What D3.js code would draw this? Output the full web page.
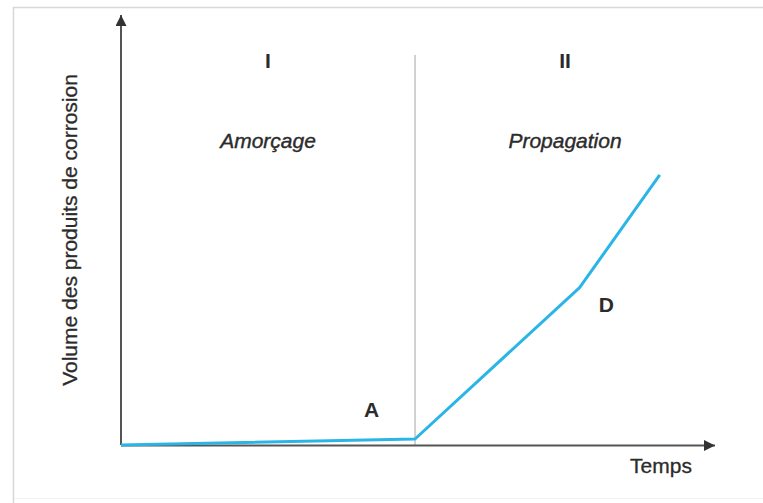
<!DOCTYPE html>
<html>
<head>
<meta charset="utf-8">
<script src="https://cdn.jsdelivr.net/npm/d3@7"></script>
<style>
  body { margin: 0; background: #fff; }
  text { font-family: "Liberation Sans", Arial, sans-serif; fill: #2b2b2b; }
</style>
</head>
<body>
<div id="chart"></div>
<script>
// time / volume points of the corrosion curve (arbitrary units)
const times = [0, 49.5, 77.2, 90.7];
const volumes = [0, 1.4, 36.6, 62.8];
const phaseLimit = 49.5;
const phases = ["I", "II"];
const phaseNames = ["Amorçage", "Propagation"];
const pointLabels = ["A", "D"];

const size = { width: 763, height: 503 };

const svg = d3.select("#chart").append("svg")
  .attr("width", size.width)
  .attr("height", size.height);

// light frame of the original figure
svg.append("path")
  .attr("d", "M13.5,503 V7.5 H763")
  .attr("fill", "none")
  .attr("stroke", "#d8d8d8")
  .attr("stroke-width", 1.5);

svg.append("line")
  .attr("x1", 14).attr("x2", 763)
  .attr("y1", 498.5).attr("y2", 498.5)
  .attr("stroke", "#eef3f3");

const x = d3.scaleLinear().domain([0, 100]).range([121, 715]);
const y = d3.scaleLinear().domain([0, 100]).range([445, 15]);

const axisColor = "#555";

// arrow heads
const defs = svg.append("defs");
defs.append("marker")
  .attr("id", "arrow")
  .attr("viewBox", "0 0 10 10")
  .attr("refX", 10)
  .attr("refY", 5)
  .attr("markerUnits", "userSpaceOnUse")
  .attr("markerWidth", 15)
  .attr("markerHeight", 11)
  .attr("orient", "auto")
  .append("path")
  .attr("d", "M0,0 L10,5 L0,10 z")
  .attr("fill", "#333");

// phase divider
svg.append("line")
  .attr("x1", x(phaseLimit)).attr("x2", x(phaseLimit))
  .attr("y1", 55).attr("y2", y(0))
  .attr("stroke", "#b5b5b5")
  .attr("stroke-width", 1.2);

// axes
svg.append("line")
  .attr("x1", x(0)).attr("y1", y(0))
  .attr("x2", x(0)).attr("y2", y(100))
  .attr("stroke", axisColor).attr("stroke-width", 2)
  .attr("marker-end", "url(#arrow)");

svg.append("line")
  .attr("x1", x(0)).attr("y1", y(0) + 0.5)
  .attr("x2", x(100)).attr("y2", y(0) + 0.5)
  .attr("stroke", axisColor).attr("stroke-width", 2)
  .attr("marker-end", "url(#arrow)");

// curve
const line = d3.line()
  .x((d) => x(d[0]))
  .y((d) => y(d[1]));

svg.append("path")
  .datum(d3.zip(times, volumes))
  .attr("d", line)
  .attr("fill", "none")
  .attr("stroke", "#2bb5e6")
  .attr("stroke-width", 3)
  .attr("stroke-linejoin", "round");

// phase titles, centred in each zone
const zoneCenters = [(0 + phaseLimit) / 2, (phaseLimit + 100) / 2];

svg.selectAll(".phase")
  .data(phases)
  .join("text")
  .attr("x", (d, i) => x(zoneCenters[i]))
  .attr("y", 68)
  .attr("text-anchor", "middle")
  .style("font-size", "21px")
  .style("font-weight", "bold")
  .text((d) => d);

svg.selectAll(".phaseName")
  .data(phaseNames)
  .join("text")
  .attr("x", (d, i) => x(zoneCenters[i]))
  .attr("y", 148)
  .attr("text-anchor", "middle")
  .style("font-size", "21px")
  .style("font-style", "italic")
  .attr("stroke", "#2b2b2b")
  .attr("stroke-width", 0.4)
  .text((d) => d);

// point labels next to the curve
const labelSpots = [[42.2, 6.5], [81.7, 30.9]];

svg.selectAll(".pointLabel")
  .data(pointLabels)
  .join("text")
  .attr("x", (d, i) => x(labelSpots[i][0]))
  .attr("y", (d, i) => y(labelSpots[i][1]))
  .attr("text-anchor", "middle")
  .style("font-size", "21px")
  .style("font-weight", "bold")
  .text((d) => d);

// axis titles
svg.append("text")
  .attr("x", 661)
  .attr("y", 473)
  .attr("text-anchor", "middle")
  .style("font-size", "21px")
  .attr("stroke", "#2b2b2b")
  .attr("stroke-width", 0.3)
  .text("Temps");

svg.append("text")
  .attr("transform", "translate(77,230) rotate(-90)")
  .attr("text-anchor", "middle")
  .style("font-size", "21px")
  .attr("stroke", "#2b2b2b")
  .attr("stroke-width", 0.3)
  .text("Volume des produits de corrosion");
</script>
</body>
</html>
